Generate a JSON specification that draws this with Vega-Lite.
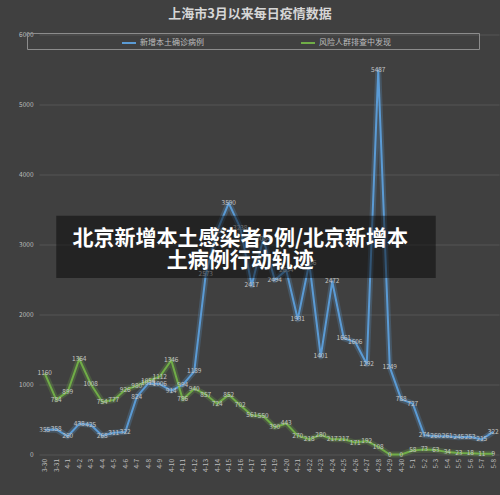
{
  "$schema": "https://vega.github.io/schema/vega-lite/v6.json",
  "autosize": "none",
  "width": 460,
  "height": 420,
  "padding": {"left": 39, "top": 34.5, "right": 1, "bottom": 40.5},
  "background": "#404040",
  "title": {
    "text": "上海市3月以来每日疫情数据",
    "fontSize": 13,
    "font": "Noto Sans CJK SC",
    "fontWeight": "bold",
    "color": "#d6d6d6",
    "anchor": "middle",
    "frame": "group",
    "dx": -19,
    "offset": 11
  },
  "config": {
    "view": {"stroke": null},
    "font": "Noto Sans CJK SC"
  },
  "datasets": {
    "daily": [
      {"d": "3-30", "s": "新增本土确诊病例", "v": 355}, {"d": "3-31", "s": "新增本土确诊病例", "v": 358},
      {"d": "4-1", "s": "新增本土确诊病例", "v": 260}, {"d": "4-2", "s": "新增本土确诊病例", "v": 438},
      {"d": "4-3", "s": "新增本土确诊病例", "v": 425}, {"d": "4-4", "s": "新增本土确诊病例", "v": 268},
      {"d": "4-5", "s": "新增本土确诊病例", "v": 311}, {"d": "4-6", "s": "新增本土确诊病例", "v": 322},
      {"d": "4-7", "s": "新增本土确诊病例", "v": 824}, {"d": "4-8", "s": "新增本土确诊病例", "v": 1015},
      {"d": "4-9", "s": "新增本土确诊病例", "v": 1006}, {"d": "4-10", "s": "新增本土确诊病例", "v": 914},
      {"d": "4-11", "s": "新增本土确诊病例", "v": 994}, {"d": "4-12", "s": "新增本土确诊病例", "v": 1189},
      {"d": "4-13", "s": "新增本土确诊病例", "v": 2573}, {"d": "4-14", "s": "新增本土确诊病例", "v": 3200},
      {"d": "4-15", "s": "新增本土确诊病例", "v": 3590}, {"d": "4-16", "s": "新增本土确诊病例", "v": 3238},
      {"d": "4-17", "s": "新增本土确诊病例", "v": 2417}, {"d": "4-18", "s": "新增本土确诊病例", "v": 3084},
      {"d": "4-19", "s": "新增本土确诊病例", "v": 2494}, {"d": "4-20", "s": "新增本土确诊病例", "v": 2634},
      {"d": "4-21", "s": "新增本土确诊病例", "v": 1931}, {"d": "4-22", "s": "新增本土确诊病例", "v": 2736},
      {"d": "4-23", "s": "新增本土确诊病例", "v": 1401}, {"d": "4-24", "s": "新增本土确诊病例", "v": 2472},
      {"d": "4-25", "s": "新增本土确诊病例", "v": 1661}, {"d": "4-26", "s": "新增本土确诊病例", "v": 1606},
      {"d": "4-27", "s": "新增本土确诊病例", "v": 1292}, {"d": "4-28", "s": "新增本土确诊病例", "v": 5487},
      {"d": "4-29", "s": "新增本土确诊病例", "v": 1249}, {"d": "4-30", "s": "新增本土确诊病例", "v": 788},
      {"d": "5-1", "s": "新增本土确诊病例", "v": 727}, {"d": "5-2", "s": "新增本土确诊病例", "v": 274},
      {"d": "5-3", "s": "新增本土确诊病例", "v": 260}, {"d": "5-4", "s": "新增本土确诊病例", "v": 261},
      {"d": "5-5", "s": "新增本土确诊病例", "v": 245}, {"d": "5-6", "s": "新增本土确诊病例", "v": 253},
      {"d": "5-7", "s": "新增本土确诊病例", "v": 215}, {"d": "5-8", "s": "新增本土确诊病例", "v": 322},
      {"d": "3-30", "s": "风险人群排查中发现", "v": 1160}, {"d": "3-31", "s": "风险人群排查中发现", "v": 784},
      {"d": "4-1", "s": "风险人群排查中发现", "v": 899}, {"d": "4-2", "s": "风险人群排查中发现", "v": 1364},
      {"d": "4-3", "s": "风险人群排查中发现", "v": 1008}, {"d": "4-4", "s": "风险人群排查中发现", "v": 754},
      {"d": "4-5", "s": "风险人群排查中发现", "v": 777}, {"d": "4-6", "s": "风险人群排查中发现", "v": 926},
      {"d": "4-7", "s": "风险人群排查中发现", "v": 980}, {"d": "4-8", "s": "风险人群排查中发现", "v": 1054},
      {"d": "4-9", "s": "风险人群排查中发现", "v": 1112}, {"d": "4-10", "s": "风险人群排查中发现", "v": 1346},
      {"d": "4-11", "s": "风险人群排查中发现", "v": 786}, {"d": "4-12", "s": "风险人群排查中发现", "v": 940},
      {"d": "4-13", "s": "风险人群排查中发现", "v": 857}, {"d": "4-14", "s": "风险人群排查中发现", "v": 724},
      {"d": "4-15", "s": "风险人群排查中发现", "v": 852}, {"d": "4-16", "s": "风险人群排查中发现", "v": 702},
      {"d": "4-17", "s": "风险人群排查中发现", "v": 561}, {"d": "4-18", "s": "风险人群排查中发现", "v": 550},
      {"d": "4-19", "s": "风险人群排查中发现", "v": 390}, {"d": "4-20", "s": "风险人群排查中发现", "v": 443},
      {"d": "4-21", "s": "风险人群排查中发现", "v": 270}, {"d": "4-22", "s": "风险人群排查中发现", "v": 218},
      {"d": "4-23", "s": "风险人群排查中发现", "v": 280}, {"d": "4-24", "s": "风险人群排查中发现", "v": 217},
      {"d": "4-25", "s": "风险人群排查中发现", "v": 217}, {"d": "4-26", "s": "风险人群排查中发现", "v": 171},
      {"d": "4-27", "s": "风险人群排查中发现", "v": 192}, {"d": "4-28", "s": "风险人群排查中发现", "v": 108},
      {"d": "4-29", "s": "风险人群排查中发现", "v": 0}, {"d": "4-30", "s": "风险人群排查中发现", "v": 0},
      {"d": "5-1", "s": "风险人群排查中发现", "v": 58}, {"d": "5-2", "s": "风险人群排查中发现", "v": 73},
      {"d": "5-3", "s": "风险人群排查中发现", "v": 63}, {"d": "5-4", "s": "风险人群排查中发现", "v": 34},
      {"d": "5-5", "s": "风险人群排查中发现", "v": 23}, {"d": "5-6", "s": "风险人群排查中发现", "v": 18},
      {"d": "5-7", "s": "风险人群排查中发现", "v": 11}, {"d": "5-8", "s": "风险人群排查中发现", "v": 9}
    ],
    "banner": [
      {"d0": "3-31", "d1": "5-3", "y0": 2520, "y1": 3410, "dc": "4-16", "yc": 3085, "t": "北京新增本土感染者5例/北京新增本\n土病例行动轨迹"}
    ]
  },
  "encoding": {
    "x": {
      "field": "d", "type": "ordinal", "sort": null,
      "scale": {"type": "point", "padding": 0.5},
      "axis": {
        "title": null, "labelAngle": -90, "labelFontSize": 6.5, "labelColor": "#bdbdbd",
        "domain": false, "ticks": false, "labelPadding": 4, "grid": false
      }
    }
  },
  "layer": [
    {
      "data": {"name": "daily"},
      "mark": {"type": "line", "strokeWidth": 6, "opacity": 0.25, "strokeJoin": "round"},
      "encoding": {
        "y": {
          "field": "v", "type": "quantitative",
          "scale": {"domain": [0, 6000]},
          "axis": {
            "title": null, "values": [0, 1000, 2000, 3000, 4000, 5000, 6000], "format": "d",
            "labelFontSize": 6.5, "labelColor": "#bdbdbd", "domain": false, "ticks": false,
            "labelPadding": 6, "gridColor": "#555555", "gridWidth": 1
          }
        },
        "color": {
          "field": "s", "type": "nominal",
          "scale": {"domain": ["新增本土确诊病例", "风险人群排查中发现"], "range": ["#5b9bd5", "#70ad47"]},
          "legend": {
            "orient": "none", "legendX": -12, "legendY": -1.5, "direction": "horizontal",
            "title": "\u00a0", "titleOrient": "right", "titlePadding": 86, "titleFontSize": 8,
            "labelFontSize": 8, "labelColor": "#bdbdbd",
            "symbolType": "stroke", "symbolSize": 196, "symbolStrokeWidth": 2, "symbolOpacity": 1,
            "symbolOffset": 92, "columnPadding": 4, "padding": 2, "strokeColor": "#8c8c8c",
            "labelOffset": 3
          }
        }
      }
    },
    {
      "data": {"name": "daily"},
      "mark": {"type": "line", "strokeWidth": 2, "strokeJoin": "round"},
      "encoding": {
        "y": {"field": "v", "type": "quantitative"},
        "color": {"field": "s", "type": "nominal"}
      }
    },
    {
      "data": {"name": "daily"},
      "mark": {"type": "text", "fontSize": 6.5, "color": "#c4c4c4", "baseline": "middle"},
      "encoding": {
        "y": {"field": "v", "type": "quantitative"},
        "text": {"field": "v", "type": "quantitative"}
      }
    },
    {
      "data": {"name": "banner"},
      "mark": {"type": "rect", "color": "#000000", "opacity": 0.45},
      "encoding": {
        "x": {"field": "d0", "type": "ordinal", "sort": null},
        "x2": {"field": "d1"},
        "y": {"field": "y0", "type": "quantitative"},
        "y2": {"field": "y1"}
      }
    },
    {
      "data": {"name": "banner"},
      "mark": {"type": "text", "fontSize": 21, "fontWeight": "bold", "color": "#ffffff", "lineBreak": "\n", "lineHeight": 22, "baseline": "middle", "align": "center"},
      "encoding": {
        "x": {"field": "dc", "type": "ordinal", "sort": null},
        "y": {"field": "yc", "type": "quantitative"},
        "text": {"field": "t"}
      }
    }
  ]
}
